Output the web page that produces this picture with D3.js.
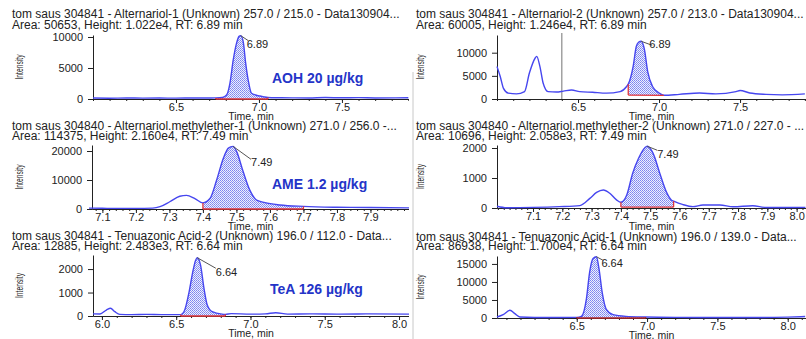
<!DOCTYPE html>
<html>
<head>
<meta charset="utf-8">
<script src="https://cdn.jsdelivr.net/npm/d3@7"></script>
<style>
  body { margin: 0; background: #fff; }
  svg { display: block; }
  text { font-family: "Liberation Sans", Arial, sans-serif; fill: #222; }
</style>
</head>
<body>
<svg width="806" height="339"></svg>
<script>
// AOH transition 1 (257/215)
var aoh1Time = [6.00, 6.10, 6.20, 6.30, 6.40, 6.50, 6.60, 6.70, 6.74, 6.78, 6.805, 6.825, 6.845, 6.865, 6.88, 6.89, 6.905, 6.92, 6.935, 6.955, 6.98, 7.006, 7.03, 7.054, 7.10, 7.20, 7.30, 7.40, 7.50, 7.60, 7.70, 7.90];
var aoh1Int = [150, 130, 160, 140, 150, 140, 160, 170, 180, 250, 640, 2530, 6300, 9000, 10100, 10220, 9250, 5750, 3060, 920, 650, 480, 350, 250, 200, 180, 170, 230, 190, 220, 170, 200];

// AOH transition 2 (257/213)
var aoh2Time = [6.00, 6.02, 6.04, 6.07, 6.12, 6.17, 6.20, 6.235, 6.245, 6.265, 6.285, 6.315, 6.367, 6.41, 6.46, 6.51, 6.59, 6.675, 6.76, 6.80, 6.81, 6.84, 6.86, 6.875, 6.89, 6.91, 6.93, 6.96, 7.00, 7.03, 7.125, 7.25, 7.35, 7.475, 7.50, 7.56, 7.66, 7.76, 7.90];
var aoh2Int = [7000, 4850, 2300, 1260, 1100, 1600, 5600, 8800, 9200, 7000, 3400, 1600, 1500, 1700, 1950, 1600, 1450, 1260, 1600, 2700, 3200, 7000, 11400, 12300, 12460, 10650, 5900, 2700, 1300, 800, 1000, 1300, 1100, 1600, 1850, 1300, 1000, 900, 1100];
var aoh2Marker = 6.4;

// AME transition 1 (271/256)
var ame1Time = [7.06, 7.10, 7.15, 7.20, 7.25, 7.272, 7.301, 7.331, 7.351, 7.376, 7.40, 7.421, 7.441, 7.461, 7.476, 7.49, 7.501, 7.52, 7.54, 7.56, 7.585, 7.63, 7.70, 7.80, 7.90, 8.02];
var ame1Int = [300, 250, 200, 200, 300, 800, 2500, 4400, 4700, 3600, 2100, 3600, 10000, 17500, 21000, 21600, 19700, 12900, 6500, 3100, 2200, 1400, 900, 600, 500, 400];

// AME transition 2 (271/227)
var ame2Time = [6.977, 7.01, 7.10, 7.19, 7.26, 7.294, 7.317, 7.34, 7.362, 7.385, 7.40, 7.42, 7.44, 7.46, 7.482, 7.49, 7.51, 7.533, 7.556, 7.573, 7.58, 7.61, 7.646, 7.68, 7.738, 7.783, 7.85, 7.897, 8.03];
var ame2Int = [60, 10, 20, 45, 80, 320, 520, 600, 490, 270, 190, 430, 1150, 1650, 2010, 2058, 1820, 1150, 520, 260, 230, 120, 45, 100, 100, 40, 75, 15, 20];

// TeA transition 2 (196/112)
var tea2Time = [5.94, 5.987, 6.03, 6.058, 6.087, 6.12, 6.20, 6.30, 6.40, 6.50, 6.531, 6.553, 6.587, 6.609, 6.631, 6.642, 6.664, 6.687, 6.709, 6.742, 6.809, 6.831, 6.87, 7.00, 7.10, 7.17, 7.25, 7.40, 7.60, 7.80, 8.07];
var tea2Int = [90, 85, 255, 330, 185, 70, 60, 70, 60, 60, 60, 190, 1030, 1800, 2380, 2483, 2170, 1180, 470, 185, 80, 70, 100, 80, 90, 140, 80, 90, 80, 90, 80];

// TeA transition 1 (196/139)
var tea1Time = [5.933, 5.977, 6.025, 6.06, 6.096, 6.20, 6.35, 6.50, 6.533, 6.569, 6.592, 6.616, 6.64, 6.658, 6.682, 6.71, 6.758, 6.85, 6.99, 7.20, 7.50, 7.80, 8.00, 8.124];
var tea1Int = [280, 930, 2130, 1200, 280, 150, 150, 180, 460, 5400, 12800, 16500, 17000, 13700, 6800, 2400, 930, 460, 280, 180, 150, 150, 250, 400];

var titles = [
  ["tom saus 304841 - Alternariol-1 (Unknown) 257.0 / 215.0 - Data130904...", "Area: 50653, Height: 1.022e4, RT: 6.89 min"],
  ["tom saus 304841 - Alternariol-2 (Unknown) 257.0 / 213.0 - Data130904...", "Area: 60005, Height: 1.246e4, RT: 6.89 min"],
  ["tom saus 304840 - Alternariol.methylether-1 (Unknown) 271.0 / 256.0 -...", "Area: 114375, Height: 2.160e4, RT: 7.49 min"],
  ["tom saus 304840 - Alternariol.methylether-2 (Unknown) 271.0 / 227.0 - ...", "Area: 10696, Height: 2.058e3, RT: 7.49 min"],
  ["tom saus 304841 - Tenuazonic Acid-2 (Unknown) 196.0 / 112.0 - Data...", "Area: 12885, Height: 2.483e3, RT: 6.64 min"],
  ["tom saus 304841 - Tenuazonic Acid-1 (Unknown) 196.0 / 139.0 - Data...", "Area: 86938, Height: 1.700e4, RT: 6.64 min"]
];
var peakLabels = ["6.89", "6.89", "7.49", "7.49", "6.64", "6.64"];
// integration window [start, end] and baseline intensity at each end
var integWindow = [[6.74, 7.054], [6.81, 7.03], [7.40, 7.70], [7.40, 7.58], [6.531, 6.831], [6.50, 6.99]];
var integBase = [[0, 0], [850, 800], [0, 0], [30, 30], [0, 0], [0, 0]];
var yTickValues = [[0, 5000, 10000], [0, 5000, 10000], [0, 10000, 20000], [0, 1000, 2000], [0, 1000, 2000], [0, 5000, 10000, 15000]];
var xTickValues = [[6.5, 7.0, 7.5], [6.5, 7.0, 7.5], [7.1, 7.2, 7.3, 7.4, 7.5, 7.6, 7.7, 7.8, 7.9], [7.1, 7.2, 7.3, 7.4, 7.5, 7.6, 7.7, 7.8, 7.9, 8.0], [6.0, 6.5, 7.0, 7.5, 8.0], [6.5, 7.0, 7.5, 8.0]];
var sampleLabels = ["AOH 20 µg/kg", "AME 1.2 µg/kg", "TeA 126 µg/kg"];

// layout of the six captured panels
var layout = [
  { left: true,  x0: 93,  x1: 409, xd: [6.0, 7.904],   base: 99,  top: 35,  yMax: 10320, t1: 18,    t2: 28.5,  tx: 120,   lab: [6, 12.5],  lead: [7.5, 5] },
  { left: false, x0: 497, x1: 806, xd: [6.0, 7.907],   base: 99,  top: 35,  yMax: 13820, t1: 18,    t2: 28.5,  tx: 120,   lab: [8, 7],     lead: [11, 4] },
  { left: true,  x0: 92,  x1: 409, xd: [7.069, 8.015], base: 209, top: 145, yMax: 22070, t1: 129.5, t2: 139.5, tx: 229.5, lab: [18, 20],   lead: [18, 13] },
  { left: false, x0: 497, x1: 806, xd: [6.977, 8.032], base: 208, top: 145, yMax: 2100,  t1: 129.5, t2: 139.5, tx: 229.5, lab: [10, 12],   lead: [10, 4] },
  { left: true,  x0: 93,  x1: 409, xd: [5.94, 8.067],  base: 316, top: 255, yMax: 2600,  t1: 240,   t2: 249.5, tx: 337,   lab: [18.5, 18], lead: [18.5, 10.5] },
  { left: false, x0: 497, x1: 806, xd: [5.933, 8.13],  base: 318, top: 256, yMax: 17200, t1: 241,   t2: 250,   tx: 338.5, lab: [5, 10],    lead: [6.5, 3.5] }
];
var series = [[aoh1Time, aoh1Int], [aoh2Time, aoh2Int], [ame1Time, ame1Int], [ame2Time, ame2Int], [tea2Time, tea2Int], [tea1Time, tea1Int]];

var svg = d3.select("svg");
var defs = svg.append("defs");
var pat = defs.append("pattern")
    .attr("id", "stipple")
    .attr("width", 2)
    .attr("height", 2)
    .attr("patternUnits", "userSpaceOnUse");
pat.append("rect").attr("width", 2).attr("height", 2).attr("fill", "#eef0fd");
pat.append("rect").attr("width", 1).attr("height", 1).attr("fill", "#7c84ef");
pat.append("rect").attr("x", 1).attr("y", 1).attr("width", 1).attr("height", 1).attr("fill", "#8f96f2");
defs.append("clipPath").attr("id", "clipLeft")
    .append("rect").attr("width", 409).attr("height", 339);

// thin separator between the captured images
svg.append("line")
    .attr("x1", 413).attr("x2", 413)
    .attr("y1", 72).attr("y2", 339)
    .attr("stroke", "#c8c8c8")
    .attr("stroke-width", 1);

for (var i = 0; i < 6; i++) {
  drawPanel(i);
}

function drawPanel(i) {
  var L = layout[i];
  var g = svg.append("g").attr("clip-path", L.left ? "url(#clipLeft)" : null);
  var textX = L.left ? 12 : 416;

  var x = d3.scaleLinear().domain(L.xd).range([L.x0, L.x1]);
  var y = d3.scaleLinear().domain([0, L.yMax]).range([L.base, L.top]);

  var pts = series[i][0].map(function(t, k) {
    return { t: t, v: series[i][1][k] };
  });

  // titles
  g.append("text").attr("x", textX).attr("y", L.t1).attr("font-size", 12).text(titles[i][0]);
  g.append("text").attr("x", textX).attr("y", L.t2).attr("font-size", 12).text(titles[i][1]);

  if (i == 1) {
    g.append("line")
        .attr("x1", x(aoh2Marker)).attr("x2", x(aoh2Marker))
        .attr("y1", L.top - 2).attr("y2", L.base)
        .attr("stroke", "#8a8a8a").attr("stroke-width", 1.2);
  }

  // integrated area
  var w = integWindow[i];
  var bl = d3.scaleLinear().domain(w).range(integBase[i]);
  var inside = pts.filter(function(d) { return d.t >= w[0] - 1e-9 && d.t <= w[1] + 1e-9; });
  var area = d3.area()
      .x(function(d) { return x(d.t); })
      .y0(function(d) { return y(bl(d.t)); })
      .y1(function(d) { return y(d.v); })
      .curve(d3.curveMonotoneX);
  g.append("path")
      .datum(inside)
      .attr("fill", "url(#stipple)")
      .attr("d", area);

  // axes
  g.append("g")
      .attr("transform", "translate(0," + L.base + ")")
      .call(d3.axisBottom(x).tickValues(xTickValues[i]).tickSize(4).tickSizeOuter(0).tickPadding(0)
        .tickFormat(d3.format(".1f")));
  var step = (i == 2 || i == 3) ? 0.02 : 0.1;
  var minor = d3.range(Math.ceil(L.xd[0] / step) * step, L.xd[1], step);
  g.append("g")
      .attr("transform", "translate(0," + L.base + ")")
      .call(d3.axisBottom(x).tickValues(minor).tickSize(2).tickSizeOuter(0).tickFormat(""));
  g.append("g")
      .attr("transform", "translate(" + L.x0 + ",0)")
      .call(d3.axisLeft(y).tickValues(yTickValues[i]).tickSize(5).tickSizeOuter(0).tickPadding(5)
        .tickFormat(d3.format("d")));
  g.selectAll(".tick text").attr("font-size", 11).attr("font-family", "Liberation Sans, Arial, sans-serif").attr("fill", "#222");
  g.selectAll(".domain, .tick line").attr("stroke", "#222");

  // chromatogram trace
  var line = d3.line()
      .x(function(d) { return x(d.t); })
      .y(function(d) { return y(d.v); })
      .curve(d3.curveMonotoneX);
  g.append("path")
      .datum(pts)
      .attr("fill", "none")
      .attr("stroke", "#4646ef")
      .attr("stroke-width", 1.4)
      .attr("stroke-linejoin", "round")
      .attr("d", line);

  // integration baseline
  var vStart = pts.find(function(d) { return Math.abs(d.t - w[0]) < 1e-6; });
  var vEnd = pts.find(function(d) { return Math.abs(d.t - w[1]) < 1e-6; });
  var red = i == 5 ? "#b3262a" : "#e2343a";
  g.append("line")
      .attr("x1", x(w[0])).attr("y1", y(integBase[i][0]))
      .attr("x2", x(w[1])).attr("y2", y(integBase[i][1]))
      .attr("stroke", red).attr("stroke-width", 1.3);
  if (vStart) {
    g.append("line")
        .attr("x1", x(w[0])).attr("y1", y(integBase[i][0]))
        .attr("x2", x(w[0])).attr("y2", y(vStart.v))
        .attr("stroke", red).attr("stroke-width", 1.3);
  }
  if (vEnd) {
    g.append("line")
        .attr("x1", x(w[1])).attr("y1", y(integBase[i][1]))
        .attr("x2", x(w[1])).attr("y2", y(vEnd.v))
        .attr("stroke", red).attr("stroke-width", 1.3);
  }

  // retention time label with leader
  var peak = d3.greatest(pts, function(d) { return d.v; });
  var px = x(peak.t), py = y(peak.v);
  g.append("line")
      .attr("x1", px).attr("y1", py)
      .attr("x2", px + L.lead[0]).attr("y2", py + L.lead[1])
      .attr("stroke", "#555").attr("stroke-width", 1);
  g.append("text")
      .attr("x", px + L.lab[0])
      .attr("y", py + L.lab[1])
      .attr("font-size", 11)
      .text(peakLabels[i]);

  // axis titles
  g.append("text")
      .attr("x", (L.x0 + L.x1) / 2)
      .attr("y", L.tx)
      .attr("text-anchor", "middle")
      .attr("font-size", 10.5)
      .text("Time, min");
  g.append("text")
      .attr("transform", "translate(" + (L.left ? 23 : 424) + "," + ((L.base + L.top) / 2) + ") rotate(-90)")
      .attr("text-anchor", "middle")
      .attr("font-size", 10)
      .attr("textLength", 25)
      .attr("lengthAdjust", "spacingAndGlyphs")
      .text("Intensity");
}

// sample annotations on the left column
var notePos = [[272, 83], [272, 188.5], [270, 294]];
sampleLabels.forEach(function(s, k) {
  svg.append("text")
      .attr("x", notePos[k][0])
      .attr("y", notePos[k][1])
      .attr("font-family", "Lato, sans-serif")
      .attr("font-weight", 700)
      .attr("font-size", 14)
      .style("fill", "#2434c8")
      .text(s);
});
</script>
</body>
</html>
